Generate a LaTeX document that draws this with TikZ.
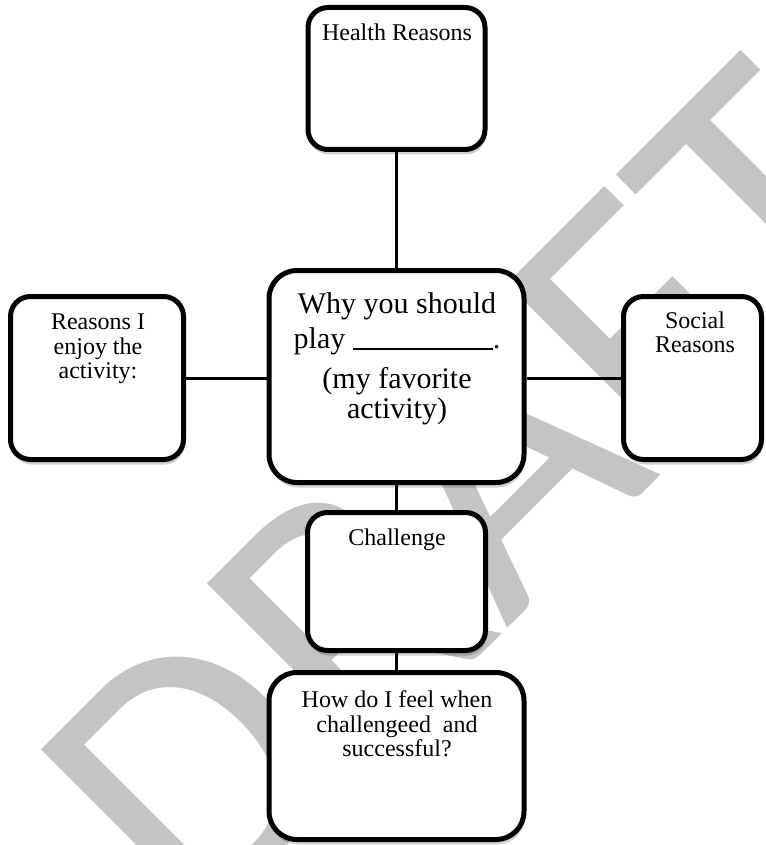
\documentclass[tikz,border=0pt]{standalone}
\usepackage{fontspec}
\setmainfont{Liberation Serif}
\newfontfamily\draftfont{Carlito}
\usepackage{xcolor}
\usetikzlibrary{positioning, shadows}
\definecolor{draftgray}{HTML}{C4C4C4}

\begin{document}
\begin{tikzpicture}[x=1pt, y=-1pt,
    box/.style={draw=black, line width=5pt, fill=white, rounded corners=20pt, inner sep=0pt,
        drop shadow={fill=black, opacity=0.18, shadow xshift=1pt, shadow yshift=-5pt}},
    bigbox/.style={box, rounded corners=28pt},
    boxtext/.style={font=\fontsize{24}{24.5}\selectfont, align=center, inner sep=0pt, anchor=north},
    link/.style={line width=3pt, black}]
    \clip (0,0) rectangle (765,845);
    % watermark behind everything
    \node[draftgray, font=\draftfont\fontsize{380}{380}\selectfont, rotate=45,
        anchor=base west, inner sep=0pt] (draft) at (195,941) {DRAFT};
    % boxes
    \node[box, minimum width=177pt, minimum height=142pt] (health) at (396.5,78.5) {};
    \node[box, minimum width=173pt, minimum height=163pt] (enjoy) at (97,378) {};
    \node[box, minimum width=138pt, minimum height=163pt] (social) at (692.5,378) {};
    \node[bigbox, minimum width=255pt, minimum height=212pt] (core) at (396.5,376.5) {};
    \node[box, minimum width=178pt, minimum height=138pt] (challenge) at (396.5,581.5) {};
    \node[bigbox, minimum width=255pt, minimum height=167pt] (feel) at (396.5,756) {};
    % texts (north = first baseline minus line height)
    \node[boxtext] (health-txt) at (397,23.6) {Health Reasons};
    \node[boxtext] (enjoy-txt) at (98,314) {Reasons I\\enjoy the\\activity:};
    \node[boxtext] (social-txt) at (695,311.6) {Social\\Reasons};
    \node[boxtext, font=\fontsize{30}{29.5}\selectfont] (core-txt) at (397,292.5)
        {Why you should\\[5.5pt] play \rule[-1pt]{140pt}{1.5pt}.\\[10.5pt] (my favorite\\activity)};
    \node[boxtext] (challenge-txt) at (397,528.6) {Challenge};
    \node[boxtext] (feel-txt) at (397,690.6) {How do I feel when\\challengeed~ and\\successful?};
    % connectors
    \draw[link] (health) -- (core);
    \draw[link] (enjoy.east) -- (enjoy.east -| core.west);
    \draw[link] (social.west) -- (social.west -| core.east);
    \draw[link] (core) -- (challenge);
    \draw[link] (challenge) -- (feel);
\end{tikzpicture}
\end{document}
